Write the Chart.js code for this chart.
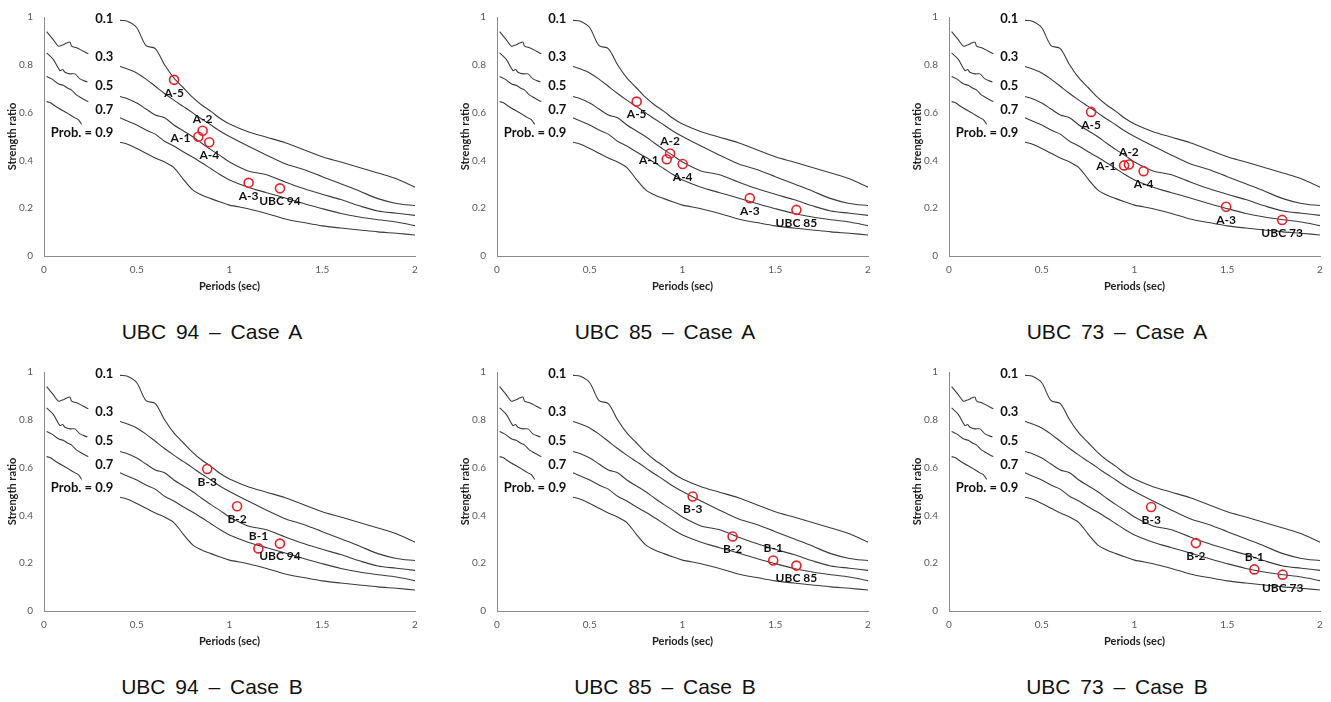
<!DOCTYPE html>
<html>
<head>
<meta charset="utf-8">
<script src="https://cdn.jsdelivr.net/npm/chart.js@4/dist/chart.umd.min.js"></script>
<style>
  html,body{margin:0;padding:0;background:#fff;}
  body{width:1331px;height:702px;overflow:hidden;position:relative;}
  canvas.pan{position:absolute;}
  .cap{position:absolute;width:300px;text-align:center;font-family:"Liberation Sans",Arial,sans-serif;font-size:21px;line-height:24px;color:#111;word-spacing:4px;white-space:pre;}
</style>
</head>
<body>
<script>
// ---------- DATA ----------
const xTicks = [0, 0.5, 1, 1.5, 2];
const yTicks = [0, 0.2, 0.4, 0.6, 0.8, 1];

const probLabels = ['0.1', '0.3', '0.5', '0.7', 'Prob. = 0.9'];
const probLabelY = [0.993, 0.834, 0.711, 0.613, 0.517];

// main probability curves (period, strength ratio)
const curveX  = [0.41,0.45,0.50,0.55,0.60,0.65,0.70,0.75,0.80,0.85,0.90,0.95,1.00,1.10,1.20,1.30,1.40,1.50,1.60,1.70,1.80,1.90,2.00];
const curve01 = [0.986,0.982,0.955,0.880,0.868,0.800,0.745,0.705,0.665,0.632,0.605,0.575,0.552,0.520,0.497,0.474,0.445,0.415,0.393,0.370,0.347,0.323,0.288];
const curve03 = [0.793,0.782,0.766,0.740,0.710,0.680,0.652,0.626,0.600,0.573,0.548,0.522,0.500,0.460,0.422,0.386,0.362,0.332,0.302,0.272,0.240,0.220,0.211];
const curve05 = [0.667,0.658,0.640,0.615,0.590,0.578,0.548,0.524,0.500,0.472,0.445,0.420,0.393,0.356,0.340,0.310,0.282,0.258,0.236,0.210,0.188,0.179,0.170];
const curve07 = [0.578,0.565,0.548,0.527,0.510,0.480,0.460,0.436,0.414,0.390,0.365,0.340,0.318,0.288,0.265,0.243,0.220,0.198,0.178,0.163,0.152,0.142,0.127];
const curve09 = [0.476,0.468,0.450,0.430,0.410,0.393,0.370,0.322,0.278,0.255,0.240,0.226,0.213,0.198,0.178,0.155,0.140,0.126,0.117,0.109,0.101,0.095,0.088];

// short curve pieces at short periods
const seg1X = [0.014,0.05,0.077,0.095,0.104,0.122,0.14,0.149,0.176,0.21,0.239];
const seg1Y = [0.939,0.905,0.878,0.882,0.884,0.891,0.895,0.878,0.871,0.858,0.846];
const seg2X = [0.014,0.05,0.086,0.10,0.113,0.14,0.167,0.194,0.234];
const seg2Y = [0.850,0.823,0.776,0.780,0.769,0.762,0.762,0.741,0.728];
const seg3X = [0.014,0.041,0.077,0.104,0.131,0.149,0.176,0.239];
const seg3Y = [0.751,0.741,0.721,0.714,0.701,0.694,0.673,0.646];
const seg4X = [0.014,0.032,0.05,0.077,0.122,0.167,0.185,0.203];
const seg4Y = [0.646,0.642,0.633,0.619,0.599,0.578,0.571,0.551];

// building points
const namesA = ['A-1','A-2','A-3','A-4','A-5'];
const namesB = ['B-1','B-2','B-3'];
const codes  = ['UBC 94','UBC 85','UBC 73'];

const a94x = [0.832,0.855,1.103,0.891,0.701,1.272];
const a94y = [0.499,0.524,0.306,0.476,0.737,0.283];
const a85x = [0.915,0.933,1.363,1.001,0.753,1.614];
const a85y = [0.405,0.429,0.242,0.385,0.646,0.193];
const a73x = [0.944,0.970,1.494,1.049,0.766,1.796];
const a73y = [0.379,0.383,0.206,0.355,0.603,0.151];
const b94x = [1.156,1.041,0.880,1.272];
const b94y = [0.262,0.438,0.594,0.282];
const b85x = [1.489,1.270,1.055,1.614];
const b85y = [0.211,0.312,0.479,0.190];
const b73x = [1.646,1.331,1.090,1.799];
const b73y = [0.174,0.284,0.435,0.152];

const captions = ['UBC 94 – Case A','UBC 85 – Case A','UBC 73 – Case A','UBC 94 – Case B','UBC 85 – Case B','UBC 73 – Case B'];

// ---------- STYLE / LAYOUT ----------
const placeA = ['left','above','below','below','below','below'];
const placeB = ['above','below','below','below'];
const panelLeft = [0, 453, 905];
const panelTop = [0, 355];
const LINE = '#3c3c3c';
const RED = '#e3232a';
const FONT = 'Lato, "Liberation Sans", sans-serif';

const zip = (xs, ys) => xs.map((x, i) => ({x, y: ys[i]}));

const annot = {
  id: 'annot',
  afterDatasetsDraw(chart) {
    const ctx = chart.ctx, xs = chart.scales.x, ys = chart.scales.y;
    const o = chart.options.plugins.annot;
    ctx.save();
    ctx.fillStyle = '#111';
    ctx.font = 'bold 13px ' + FONT;
    ctx.textAlign = 'right';
    ctx.textBaseline = 'middle';
    probLabels.forEach((t, i) => ctx.fillText(t, xs.getPixelForValue(0.374), ys.getPixelForValue(probLabelY[i])));
    ctx.font = 'bold 12px ' + FONT;
    o.names.forEach((t, i) => {
      const px = xs.getPixelForValue(o.px[i]), py = ys.getPixelForValue(o.py[i]);
      const p = o.place[i];
      if (p === 'left') { ctx.textAlign = 'right'; ctx.fillText(t, px - 8, py + 1); }
      else if (p === 'above') { ctx.textAlign = 'center'; ctx.fillText(t, px, py - 12); }
      else { ctx.textAlign = 'center'; ctx.fillText(t, px, py + 13); }
    });
    ctx.restore();
  }
};

function lineDs(xs, ys) {
  return {type: 'line', data: zip(xs, ys), borderColor: LINE, borderWidth: 1.1, pointRadius: 0, fill: false, tension: 0.3, showLine: true};
}

function makePanel(idx, px, py, names, place) {
  const col = idx % 3, row = Math.floor(idx / 3);
  const c = document.createElement('canvas');
  c.className = 'pan';
  c.width = 426; c.height = 300;
  c.style.left = panelLeft[col] + 'px';
  c.style.top = panelTop[row] + 'px';
  c.style.width = '426px'; c.style.height = '300px';
  document.body.appendChild(c);

  const cap = document.createElement('div');
  cap.className = 'cap';
  cap.textContent = captions[idx];
  cap.style.left = (panelLeft[col] + 212 - 150) + 'px';
  cap.style.top = (panelTop[row] + 320) + 'px';
  document.body.appendChild(cap);

  const tickFont = {family: FONT, size: 10};
  const titleFont = {family: FONT, size: 11, weight: 'bold'};
  new Chart(c, {
    type: 'scatter',
    data: {
      datasets: [
        {type: 'scatter', data: zip(px, py), pointStyle: 'circle', pointRadius: 4.5, borderColor: RED, borderWidth: 1.6, backgroundColor: 'rgba(0,0,0,0)', showLine: false},
        lineDs(curveX, curve01), lineDs(curveX, curve03), lineDs(curveX, curve05), lineDs(curveX, curve07), lineDs(curveX, curve09),
        lineDs(seg1X, seg1Y), lineDs(seg2X, seg2Y), lineDs(seg3X, seg3Y), lineDs(seg4X, seg4Y)
      ]
    },
    options: {
      responsive: false, animation: false, events: [],
      layout: {padding: {left: 0, top: 12, right: 11, bottom: 4}},
      plugins: {legend: {display: false}, tooltip: {enabled: false},
        annot: {names: names.concat([]), px, py, place}},
      scales: {
        x: {type: 'linear', min: 0, max: 2,
          afterBuildTicks: s => { s.ticks = xTicks.map(v => ({value: v})); },
          ticks: {color: '#595959', font: tickFont, padding: 8, maxRotation: 0, callback: v => String(v)},
          grid: {display: false, drawTicks: false},
          border: {display: true, color: '#8a8a8a', width: 1},
          title: {display: true, text: 'Periods (sec)', color: '#222', font: titleFont, padding: {top: 0, bottom: 3}},
          afterFit: s => { s.height = 40; }
        },
        y: {type: 'linear', min: 0, max: 1,
          afterBuildTicks: s => { s.ticks = yTicks.map(v => ({value: v})); },
          ticks: {color: '#595959', font: tickFont, padding: 11, callback: v => String(v)},
          grid: {display: false, drawTicks: false},
          border: {display: true, color: '#8a8a8a', width: 1},
          title: {display: true, text: 'Strength ratio', color: '#222', font: titleFont, padding: {top: 6, bottom: 0}},
          afterFit: s => { s.width = 44; }
        }
      }
    },
    plugins: [annot]
  });
}

const allA = namesA;
makePanel(0, a94x, a94y, allA.concat([codes[0]]), placeA);
makePanel(1, a85x, a85y, allA.concat([codes[1]]), placeA);
makePanel(2, a73x, a73y, allA.concat([codes[2]]), placeA);
makePanel(3, b94x, b94y, namesB.concat([codes[0]]), placeB);
makePanel(4, b85x, b85y, namesB.concat([codes[1]]), placeB);
makePanel(5, b73x, b73y, namesB.concat([codes[2]]), placeB);
</script>
</body>
</html>
